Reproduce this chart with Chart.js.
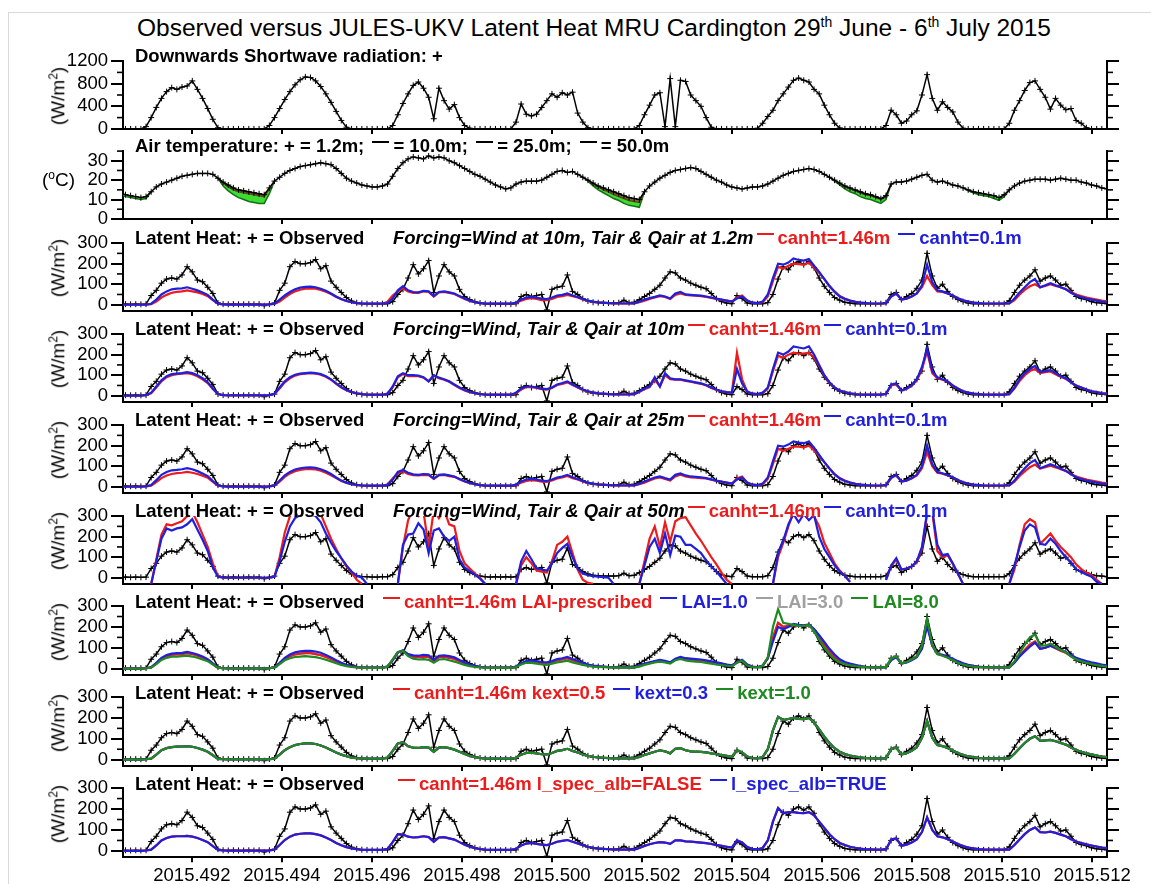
<!DOCTYPE html>
<html>
<head>
<meta charset="utf-8">
<script src="https://cdn.jsdelivr.net/npm/chart.js@4.4.0/dist/chart.umd.min.js"></script>
<style>
  body { margin: 0; background: #fff; }
  #wrap { position: relative; width: 1151px; height: 884px; overflow: hidden; background: #fff;
          font-family: "Liberation Sans", Arial, sans-serif; color: #000; }
  #frame { position: absolute; left: 8px; top: 12px; width: 1300px; height: 1000px; border: 1px solid #dadada; }
  canvas { position: absolute; }
  .title { position: absolute; left: 0; top: 14px; width: 1188px; text-align: center; font-size: 24.5px; white-space: nowrap; }
  .title sup { font-size: 14px; }
  .lbl { position: absolute; font-weight: bold; font-size: 18.5px; line-height: 20px; white-space: nowrap; }
  .dash { display: inline-block; width: 17px; height: 2px; margin: 0 4px 0 3px; position: relative; top: -9px; }
  .ytitle { position: absolute; font-size: 19px; white-space: nowrap; transform: translate(-50%, -50%) rotate(-90deg); }
  .ytitle sup, .deg sup { font-size: 12px; }
  .deg { position: absolute; font-size: 19px; white-space: nowrap; }
</style>
</head>
<body>
<div id="wrap">
  <div id="frame"></div>
  <div class="title">Observed versus JULES-UKV Latent Heat MRU Cardington 29<sup>th</sup> June - 6<sup>th</sup> July 2015</div>
</div>
<script>
// x axis in decimal years, data hourly from 29 June 00:00 UTC
const X_MIN = 2015.49047;
const X_MAX = 2015.51233;
const X_TICKS = [2015.492, 2015.494, 2015.496, 2015.498, 2015.500, 2015.502, 2015.504, 2015.506, 2015.508, 2015.510, 2015.512];

// downward shortwave (W/m2), hours 0..192
const SW_OBS = [
  0,0,0,0,0,40,200,380,540,660,730,700,740,760,850,700,540,360,170,20,0,0,0,0,
  0,0,0,0,0,60,200,360,520,660,780,870,920,910,850,750,620,470,310,150,30,0,0,0,
  0,0,0,0,0,60,250,450,620,770,830,720,560,180,720,500,350,430,200,60,10,0,0,0,
  0,0,0,0,0,120,440,260,230,260,380,500,620,560,640,600,650,280,120,20,0,0,0,0,
  0,0,0,0,0,60,250,420,600,640,40,890,40,860,840,600,500,400,200,30,0,0,0,0,
  0,0,0,0,10,100,220,330,500,620,740,860,900,860,830,700,620,420,250,100,15,0,0,0,
  0,0,0,0,0,60,330,250,100,140,250,320,600,960,540,330,480,380,300,120,10,0,0,0,
  0,0,0,0,0,100,330,500,680,820,850,700,560,350,540,420,340,360,150,100,20,0,0,0,
  0
];

// air temperature at 1.2 m (degC)
const TAIR_OBS = [
  13.5,12.5,12,11.5,11,11.5,14,16.5,18,19,20,21,22,22.5,23,23.5,23.5,23.5,23,21,19,17.5,16,15,
  14.5,14,13.5,13,12.5,16,19.5,21.5,23.5,25,26,27,27.5,28,28.5,29,28.5,28,26,23.5,21,19.5,18.5,17.5,
  17,16.5,16.5,17,18,22,26,29,31,32,31.5,31,32.5,31.5,32,31.5,30,29,27.5,26,24.5,23,22,20.5,
  19,17.5,16.5,15.5,16,18,19,19.5,19.5,19.5,20,21.5,23,24.5,25,24,24.5,23,21.5,20,18.5,17,16,15,
  14,13,12,11,10.5,10,14,17,19,21,22.5,24,25,25.5,26,26.5,26,24.5,23,21.5,20,19,17.5,16.5,
  16,15.5,16,16.5,16.5,17,18,19.5,21,22.5,23.5,24.5,25,25.5,26,25.5,24.5,23,21.5,20,18.5,17,16,15,
  14,13,12.5,11.5,10.5,12,18,19,19,19.5,20.5,21.5,22.5,23,20,19,19.5,18.5,17.5,17,16,15,14,13.5,
  13,12.5,12,11,12.5,15,17,18.5,19.5,20,20.5,20.5,20.5,20,20.5,21,20.5,20,20,19,18.5,17.5,17,16,
  15.5
];
// higher levels only where they separate from 1.2 m at night: [hour, degC]
const TAIR_10M = [
  [19,21],[20,18.5],[21,16.5],[22,15],[23,14],[24,13.5],[25,13],[26,12.5],[27,12],[28,11.5],[29,15.5],[30,19.5],[31,null],
  [91,20],[92,18],[93,16.5],[94,15],[95,14],[96,12.5],[97,11.5],[98,10.5],[99,9.5],[100,9],[101,8.5],[102,14],[103,null],
  [140,18.5],[141,16.5],[142,15.5],[143,14.5],[144,13.5],[145,12.5],[146,12],[147,11],[148,10],[149,11.5],[150,18]
];
const TAIR_50M = [
  [0,12.5],[1,11.5],[2,11],[3,10.5],[4,10],[5,10.5],[6,14],[7,null],
  [19,21],[20,17],[21,14.5],[22,12.5],[23,11],[24,10],[25,9],[26,8.5],[27,8],[28,8],[29,13],[30,19.5],[31,null],
  [90,21.5],[91,19.5],[92,17],[93,15],[94,13.5],[95,12],[96,10.5],[97,9.5],[98,8],[99,7],[100,6.5],[101,6],[102,14],[103,null],
  [138,21.5],[139,19.5],[140,17.5],[141,15.5],[142,14],[143,13],[144,11.5],[145,10.5],[146,10],[147,9],[148,8],[149,10],[150,18],[151,null],
  [164,16],[165,14.5],[166,13.5],[167,12.5],[168,12],[169,11.5],[170,10.5],[171,9.5],[172,11.5],[173,15]
];

// observed latent heat (W/m2)
const LE_OBS = [
  2,3,2,3,2,3,45,70,105,125,130,125,145,185,160,120,112,85,55,8,3,2,3,2,
  2,3,2,3,-5,3,8,70,105,185,210,200,200,205,220,175,190,115,85,60,35,18,10,6,
  5,3,3,5,5,15,50,75,130,195,150,175,215,60,140,195,160,140,75,40,25,15,8,5,
  3,5,3,5,3,5,40,50,40,45,50,-25,75,85,90,145,65,50,30,18,12,10,8,8,
  8,10,22,10,12,25,40,55,75,95,130,160,155,130,120,105,95,85,78,55,30,15,8,5,
  45,30,8,5,5,5,10,50,125,185,170,200,210,195,210,180,130,90,60,35,22,12,8,5,
  5,5,5,5,5,10,50,60,25,40,55,80,120,250,140,80,100,65,40,25,15,8,5,5,
  5,5,5,5,5,20,60,95,120,140,170,115,130,140,120,95,100,70,40,30,25,15,10,8,
  5
];

// forcing at 1.2 m
const LE_12M_CANHT146 = [
  0,0,0,0,0,0,3,15,35,48,58,63,65,70,65,60,52,42,22,5,2,1,1,1,
  1,1,1,1,1,2,4,15,35,52,65,73,78,80,78,72,63,52,38,27,18,12,8,5,
  5,5,5,5,15,45,65,80,65,58,58,65,62,40,60,62,58,52,40,28,18,12,8,5,
  5,5,5,5,5,8,20,28,32,28,22,22,28,38,42,48,42,35,26,18,14,12,10,8,
  6,6,6,6,6,12,20,28,35,42,38,28,48,55,48,46,44,42,38,33,28,24,20,15,
  35,45,20,10,8,12,40,115,185,175,190,200,198,195,205,180,155,125,92,65,42,30,20,14,
  10,8,6,6,6,6,40,55,25,30,40,55,85,140,95,65,62,55,45,32,22,15,10,8,
  6,6,6,6,6,6,22,50,72,90,100,85,92,100,92,85,75,62,50,42,35,30,25,20,
  16
];
const LE_12M_CANHT01 = [
  0,0,0,0,0,0,5,25,50,65,75,78,80,85,78,70,60,48,25,5,2,1,1,1,
  1,1,1,1,1,2,5,25,45,62,75,83,87,88,85,78,68,55,40,28,18,12,8,5,
  5,5,5,5,8,30,70,90,70,62,60,68,65,42,62,65,60,55,42,30,20,12,8,5,
  5,5,5,5,5,10,25,35,38,35,30,28,35,45,48,55,45,38,28,20,15,12,10,8,
  6,6,6,6,6,15,25,32,38,45,40,30,55,62,50,48,46,44,40,35,30,25,20,15,
  30,40,20,10,8,15,50,130,200,195,205,225,218,215,222,190,160,125,90,62,40,28,20,14,
  10,8,6,6,6,6,40,55,25,30,40,55,95,195,110,70,65,55,45,32,22,15,10,8,
  6,6,6,6,6,6,30,60,85,110,125,85,95,105,95,85,75,58,45,38,30,25,20,15,
  12
];

// forcing at 10 m
const LE_10M_CANHT146 = [
  0,0,0,0,0,3,12,40,70,90,100,105,108,110,105,95,80,62,33,8,3,2,2,2,
  2,2,2,2,2,3,8,35,65,85,98,105,108,110,108,102,92,78,58,40,27,18,12,8,
  6,5,5,5,10,40,90,105,95,95,95,88,70,98,85,78,68,52,38,26,17,12,8,6,
  5,5,5,5,5,12,30,42,42,38,32,30,38,52,58,65,52,40,28,20,15,12,10,8,
  6,6,6,6,8,18,32,42,80,45,100,80,78,78,72,68,62,58,50,38,28,22,18,15,
  210,80,20,10,8,12,35,120,195,185,200,210,205,205,210,185,145,98,62,40,25,18,12,8,
  6,5,5,5,5,8,50,55,25,33,48,75,130,215,110,85,78,68,48,34,22,15,10,8,
  6,5,5,5,5,8,35,72,100,120,130,110,115,118,105,92,82,65,50,40,30,22,18,13,
  10
];
const LE_10M_CANHT01 = [
  0,0,0,0,0,3,15,45,75,95,105,108,110,115,110,100,85,65,35,8,3,2,2,2,
  2,2,2,2,2,3,10,40,70,90,102,108,110,112,110,105,95,80,60,42,28,18,12,8,
  6,5,5,5,10,45,95,110,100,100,98,90,70,100,88,80,70,55,40,28,18,12,8,6,
  5,5,5,5,5,15,35,45,45,40,35,32,40,55,62,70,55,42,30,22,16,12,10,8,
  6,6,6,6,8,20,35,45,90,45,110,85,80,80,75,70,65,60,52,40,30,22,18,15,
  130,60,20,10,8,15,40,130,210,200,215,240,235,230,240,200,150,100,65,40,25,18,12,8,
  6,5,5,5,5,8,55,60,25,35,50,80,140,230,120,90,80,70,50,35,22,15,10,8,
  6,5,5,5,5,8,40,80,110,130,145,115,120,125,110,95,85,65,50,40,30,22,18,12,
  10
];

// forcing at 25 m
const LE_25M_CANHT146 = [
  0,0,0,0,0,2,5,22,42,55,62,66,68,72,68,62,54,44,24,5,2,1,1,1,
  1,1,1,1,1,2,5,25,48,65,76,82,85,86,84,78,68,56,42,28,19,12,8,5,
  5,5,5,5,12,40,65,75,62,56,55,58,56,38,55,57,52,48,36,26,17,12,8,5,
  5,5,5,5,5,8,20,28,32,30,25,24,30,40,45,52,42,35,26,18,14,12,10,8,
  6,6,6,6,6,12,20,30,40,45,38,30,50,58,50,46,44,42,40,34,28,24,20,15,
  40,50,20,10,8,12,38,110,185,175,185,195,195,192,200,178,150,120,90,62,42,30,20,14,
  10,8,6,6,6,6,42,56,25,30,40,55,90,170,100,68,63,55,45,32,22,15,10,8,
  6,6,6,6,6,6,25,52,75,95,108,88,95,102,94,86,76,62,50,42,35,30,25,20,
  16
];
const LE_25M_CANHT01 = [
  0,0,0,0,0,2,8,32,58,72,80,82,85,90,85,76,65,52,28,6,2,1,1,1,
  1,1,1,1,1,2,6,30,55,72,84,90,93,94,92,85,75,62,45,30,20,13,9,6,
  5,5,5,5,8,35,72,82,68,60,58,62,60,40,58,60,55,50,38,27,18,12,8,5,
  5,5,5,5,5,10,25,35,38,35,30,28,35,45,50,58,46,38,28,20,15,12,10,8,
  6,6,6,6,6,15,25,35,45,50,42,35,58,65,55,50,48,46,42,36,30,25,20,15,
  35,45,20,10,8,15,45,125,200,195,205,220,215,212,220,190,155,120,88,60,40,28,20,14,
  10,8,6,6,6,6,45,58,25,30,42,58,100,200,110,72,66,56,46,33,22,15,10,8,
  6,6,6,6,6,6,30,62,90,115,130,90,100,110,100,88,78,60,46,38,30,25,20,15,
  12
];

// forcing at 50 m (gaps where the model output is missing)
const LE_50M_CANHT146 = [
  null,null,null,null,null,null,-30,90,210,260,255,265,275,300,320,270,210,150,70,8,0,0,0,0,
  0,0,0,0,0,0,5,100,220,300,340,360,370,360,340,310,250,190,140,95,55,25,-10,-30,
  null,null,null,null,null,null,-30,150,280,340,300,320,150,330,290,330,260,250,130,70,45,20,0,-30,
  null,null,null,null,null,-30,60,100,70,35,30,25,80,160,175,200,120,40,-10,-25,-30,null,null,null,
  null,null,null,null,null,-30,80,190,250,150,270,175,275,290,295,255,215,180,140,100,65,25,-10,-30,
  null,null,null,null,null,null,null,-30,100,170,250,320,300,320,310,300,250,170,120,70,35,10,-20,null,
  null,null,null,null,null,-10,55,90,40,45,55,75,140,310,320,130,100,110,68,20,-30,null,null,null,
  null,null,null,null,null,-30,40,160,260,285,270,165,190,215,180,150,125,100,65,42,25,12,-10,-30,
  null
];
const LE_50M_CANHT01 = [
  null,null,null,null,null,null,-30,80,190,240,230,240,245,260,285,235,185,130,50,5,0,0,0,0,
  0,0,0,0,0,0,5,80,175,250,290,305,310,310,300,270,215,170,130,95,60,30,10,0,
  -30,null,null,null,null,null,-30,160,210,215,265,235,120,230,240,200,180,200,90,50,32,15,-5,-30,
  null,null,null,null,null,-30,80,130,90,45,40,35,70,120,145,165,100,45,20,12,8,5,3,0,
  -30,null,null,null,null,-30,60,150,190,120,215,110,205,200,160,160,140,120,85,55,30,0,-30,null,
  null,null,null,null,null,null,null,-30,120,180,260,310,270,310,280,305,200,140,100,60,30,10,-20,null,
  null,null,null,null,null,-10,60,95,40,45,55,80,150,320,330,160,110,115,70,20,-30,null,null,null,
  null,null,null,null,null,-30,60,150,230,260,245,165,160,190,165,130,100,75,42,28,16,5,-20,-30,
  null
];

// LAI experiments (LAI=3.0 lies on the prescribed run)
const LE_LAI_PRESCRIBED = [
  0,0,0,0,0,2,6,25,48,60,66,68,70,74,70,62,52,42,23,5,2,1,1,1,
  1,1,1,1,1,2,6,25,46,60,68,72,74,74,70,65,56,46,34,24,16,10,7,5,
  5,5,5,5,10,42,78,86,66,58,55,58,56,36,55,57,52,46,36,26,17,11,8,5,
  5,5,5,5,5,9,24,32,34,30,26,25,30,40,44,50,40,32,24,17,13,10,9,7,
  6,6,6,6,6,13,22,28,34,38,34,28,44,52,46,44,42,40,36,30,26,22,18,14,
  30,40,18,9,7,14,50,150,220,200,205,210,205,205,210,185,150,115,82,56,38,27,20,15,
  11,8,7,6,6,6,44,58,25,31,42,58,100,215,112,70,64,55,44,32,22,16,12,9,
  7,6,6,6,6,6,30,62,90,115,130,95,100,110,98,86,76,60,46,38,30,25,20,15,
  12
];
const LE_LAI_1 = [
  0,0,0,0,0,2,6,28,52,65,72,74,76,80,75,68,58,46,25,5,2,1,1,1,
  1,1,1,1,1,2,6,28,52,68,78,83,85,85,82,76,66,54,40,28,18,12,8,5,
  5,5,5,5,10,40,78,88,70,64,62,66,64,42,62,64,60,54,42,30,20,13,9,6,
  5,5,5,5,5,10,26,36,40,36,32,30,36,46,50,56,46,38,28,20,15,12,10,8,
  6,6,6,6,6,15,24,30,36,42,38,30,48,56,50,48,46,44,40,35,30,25,20,16,
  30,42,20,10,8,15,50,130,200,190,200,215,210,208,212,190,160,128,95,68,45,32,24,18,
  12,9,7,6,6,6,40,55,25,30,40,55,95,205,110,72,66,58,48,36,26,18,13,10,
  8,7,6,6,6,6,28,58,82,105,125,95,100,110,100,90,80,65,52,44,36,30,25,20,
  16
];
const LE_LAI_8 = [
  0,0,0,0,0,2,5,22,42,52,57,58,60,62,58,52,44,36,20,4,2,1,1,1,
  1,1,1,1,1,2,5,22,40,50,56,58,60,58,55,50,43,35,26,18,12,8,6,4,
  4,4,4,4,10,45,80,85,60,48,44,46,42,28,44,46,40,34,26,18,12,8,6,4,
  4,4,4,4,4,8,20,28,28,24,20,18,24,30,34,38,30,24,18,13,10,8,7,6,
  5,5,5,5,5,10,18,24,30,34,30,24,40,46,40,36,34,32,28,24,20,17,14,11,
  28,38,15,8,6,12,55,200,285,220,215,210,205,205,210,180,140,100,70,45,30,22,16,12,
  9,7,6,6,6,6,48,60,25,32,44,60,110,240,115,70,62,52,40,28,19,13,10,8,
  6,6,6,6,6,6,35,75,115,150,165,110,110,120,105,90,78,58,44,35,28,22,17,13,
  10
];

// kext experiments: the three runs overlap, kext=1.0 drawn last
const LE_KEXT = [
  0,0,0,0,0,2,5,24,45,55,60,62,63,65,62,56,48,38,21,4,2,1,1,1,
  1,1,1,1,1,2,5,24,45,60,70,75,78,78,75,68,58,46,34,24,16,10,7,5,
  5,5,5,5,10,42,78,84,64,58,56,60,58,38,58,60,55,48,38,27,18,12,8,5,
  5,5,5,5,5,9,24,32,34,30,26,25,32,42,46,52,42,34,25,18,14,11,9,7,
  6,6,6,6,6,13,22,30,38,45,40,30,52,55,45,40,38,37,35,30,26,22,18,14,
  45,35,15,8,6,12,50,140,205,190,195,200,196,194,200,178,145,110,80,55,38,27,20,15,
  11,8,7,6,6,6,50,58,25,31,42,60,105,185,105,70,65,56,44,32,22,16,12,9,
  7,6,6,6,6,6,28,55,80,100,112,90,92,95,88,80,72,58,46,38,30,25,20,15,
  12
];

// l_spec_alb experiments: FALSE and TRUE overlap
const LE_SPEC_ALB = [
  0,0,0,0,0,2,6,26,50,62,68,70,70,72,68,62,52,42,23,5,2,1,1,1,
  1,1,1,1,1,2,6,28,52,68,78,82,84,84,80,74,64,52,38,27,18,12,8,5,
  5,5,5,5,10,42,80,78,68,64,66,70,66,44,64,66,60,54,42,30,20,13,9,6,
  5,5,5,5,5,10,26,35,38,34,30,28,34,44,48,52,44,36,27,20,15,12,10,8,
  6,6,6,6,6,14,24,32,38,42,40,34,50,50,46,44,42,40,37,33,28,24,20,16,
  50,40,18,10,8,14,50,140,205,180,185,185,182,180,185,170,140,110,80,56,38,28,20,15,
  11,8,7,6,6,6,55,60,25,30,40,55,90,160,100,70,65,56,45,33,23,16,12,9,
  7,6,6,6,6,6,28,55,80,100,112,90,88,92,86,78,70,56,45,38,31,26,21,16,
  13
];

const RED = '#ec1c1c', BLUE = '#1f1fdc', GREEN = '#1f8a1f', GREY = '#a0a0a0';
const FONT = '"Liberation Sans", Arial, sans-serif';
const TICK_FONT = { family: FONT, size: 18.5 };

const toYear = h => 2015 + (179 + h / 24) / 365;
const hourly = arr => arr.map((v, h) => ({ x: toYear(h), y: v }));
const pairs = arr => arr.map(p => ({ x: toYear(p[0]), y: p[1] }));

function obs(data) {
  return { data, borderColor: '#000', borderWidth: 1.5, pointStyle: 'cross', pointRadius: 3,
           pointBorderColor: '#000', pointBorderWidth: 1, order: 10 };
}
function model(arr, color, order) {
  return { data: hourly(arr), borderColor: color, borderWidth: 2.2, pointRadius: 0, order };
}

const minorTicks = {
  id: 'minorTicks',
  afterDraw(chart, args, opts) {
    const ctx = chart.ctx;
    ['y', 'y2'].forEach(id => {
      const s = chart.scales[id];
      ctx.save();
      ctx.strokeStyle = '#000';
      ctx.lineWidth = 1.6;
      opts.values.forEach(v => {
        const py = s.getPixelForValue(v);
        const x0 = id === 'y' ? chart.chartArea.left : chart.chartArea.right;
        const dir = id === 'y' ? -1 : 1;
        ctx.beginPath();
        ctx.moveTo(x0, py);
        ctx.lineTo(x0 + dir * 6, py);
        ctx.stroke();
      });
      ctx.restore();
    });
  }
};

const wrap = document.getElementById('wrap');
const CANVAS_LEFT = 20, CANVAS_W = 1121, AREA_LEFT = 123, AREA_RIGHT = 1107;

function addHtml(cls, html, style) {
  const d = document.createElement('div');
  d.className = cls;
  d.innerHTML = html;
  Object.assign(d.style, style);
  wrap.appendChild(d);
}

function buildPanel(p) {
  const top = Math.floor(p.areaTop) - 13;
  const padT = p.areaTop - top;
  const xH = p.last ? 34 : 13;
  const h = Math.ceil(p.areaBottom + xH) - top;
  const xFit = h - padT - (p.areaBottom - p.areaTop);

  const cv = document.createElement('canvas');
  cv.width = CANVAS_W; cv.height = h;
  cv.style.left = CANVAS_LEFT + 'px'; cv.style.top = top + 'px';
  cv.style.width = CANVAS_W + 'px'; cv.style.height = h + 'px';
  wrap.appendChild(cv);

  const yAxis = (pos, showLabels) => ({
    position: pos, min: p.yMin, max: p.yMax,
    afterBuildTicks: s => { s.ticks = p.majors.map(v => ({ value: v })); },
    afterFit: s => { s.width = pos === 'left' ? AREA_LEFT - CANVAS_LEFT : CANVAS_LEFT + CANVAS_W - AREA_RIGHT; },
    ticks: { callback: v => showLabels ? String(v) : '', color: '#000', padding: 3, autoSkip: false,
             font: TICK_FONT },
    grid: { drawOnChartArea: false, tickLength: 12, color: '#000', lineWidth: 2 },
    border: { color: '#000', width: 2 }
  });

  new Chart(cv, {
    type: 'line',
    data: { datasets: p.datasets },
    plugins: [minorTicks],
    options: {
      responsive: false, animation: false, devicePixelRatio: 1,
      layout: { padding: { top: padT, left: 0, right: 0, bottom: 0 } },
      plugins: { legend: { display: false }, tooltip: { enabled: false }, minorTicks: { values: p.minors } },
      scales: {
        x: {
          type: 'linear', position: 'bottom', min: X_MIN, max: X_MAX,
          afterBuildTicks: s => { s.ticks = X_TICKS.map(v => ({ value: v })); },
          afterFit: s => { s.height = xFit; },
          ticks: { callback: v => p.last ? v.toFixed(3) : '', color: '#000', padding: 3, autoSkip: false,
                   maxRotation: 0, font: TICK_FONT },
          grid: { drawOnChartArea: false, tickLength: 5, color: '#000', lineWidth: 2 },
          border: { color: '#000', width: 2 }
        },
        y: yAxis('left', true),
        y2: yAxis('right', false)
      }
    }
  });

  addHtml('lbl', p.label, { left: '135px', top: (p.areaTop - 14) + 'px' });
  if (p.label2) addHtml('lbl', p.label2, { left: p.label2x + 'px', top: (p.areaTop - 14) + 'px' });
  if (p.ytitle) addHtml('ytitle', p.ytitle, { left: '58px', top: p.ytitleY + 'px' });
}

const dash = c => `<span class="dash" style="background:${c}"></span>`;
const col = (c, t) => `<span style="color:${c}">${t}</span>`;
const WM2 = '(W/m<sup>2</sup>)';

// panel 1: shortwave
buildPanel({
  areaTop: 60, areaBottom: 130, yMin: 0, yMax: 1200,
  majors: [0, 400, 800, 1200], minors: [200, 600, 1000],
  datasets: [obs(hourly(SW_OBS))],
  label: 'Downwards Shortwave radiation: +', ytitle: WM2, ytitleY: 96
});
// panel 2: air temperature
buildPanel({
  areaTop: 150, areaBottom: 220, yMin: 0, yMax: 35,
  majors: [0, 10, 20, 30], minors: [5, 15, 25, 35],
  datasets: [
    obs(hourly(TAIR_OBS)),
    { data: pairs(TAIR_10M), borderColor: '#5a4a1a', borderWidth: 1.5, pointRadius: 0, order: 12,
      fill: { target: 0 }, backgroundColor: 'rgb(128,104,40)' },
    { data: pairs(TAIR_50M), borderColor: '#157015', borderWidth: 1.5, pointRadius: 0, order: 14,
      fill: { target: 0 }, backgroundColor: 'rgb(60,220,50)' }
  ],
  label: `Air temperature: + = 1.2m; ${dash('#000')}= 10.0m; ${dash('#000')}= 25.0m; ${dash('#000')}= 50.0m`
});
addHtml('deg', '(<sup>o</sup>C)', { left: '42px', top: '168px' });

// panels 3-9: latent heat
const LH_TOP = 242.3, LH_STEP = 90.9, LH_H = 69.5;
const LH_PANELS = [
  { sets: [model(LE_12M_CANHT146, RED, 5), model(LE_12M_CANHT01, BLUE, 4)],
    label2: `<i>Forcing=Wind at 10m, Tair &amp; Qair at 1.2m</i>${dash(RED)}${col(RED, 'canht=1.46m')} ${dash(BLUE)}${col(BLUE, 'canht=0.1m')}`, x: 393 },
  { sets: [model(LE_10M_CANHT146, RED, 5), model(LE_10M_CANHT01, BLUE, 4)],
    label2: `<i>Forcing=Wind, Tair &amp; Qair at 10m</i>${dash(RED)}${col(RED, 'canht=1.46m')}${dash(BLUE)}${col(BLUE, 'canht=0.1m')}`, x: 393 },
  { sets: [model(LE_25M_CANHT146, RED, 5), model(LE_25M_CANHT01, BLUE, 4)],
    label2: `<i>Forcing=Wind, Tair &amp; Qair at 25m</i>${dash(RED)}${col(RED, 'canht=1.46m')}${dash(BLUE)}${col(BLUE, 'canht=0.1m')}`, x: 393 },
  { sets: [model(LE_50M_CANHT146, RED, 5), model(LE_50M_CANHT01, BLUE, 4)],
    label2: `<i>Forcing=Wind, Tair &amp; Qair at 50m</i>${dash(RED)}${col(RED, 'canht=1.46m')}${dash(BLUE)}${col(BLUE, 'canht=0.1m')}`, x: 393 },
  { sets: [model(LE_LAI_PRESCRIBED, GREY, 6), model(LE_LAI_PRESCRIBED, RED, 5), model(LE_LAI_1, BLUE, 4), model(LE_LAI_8, GREEN, 3)],
    label2: `${dash(RED)}${col(RED, 'canht=1.46m LAI-prescribed')} ${dash(BLUE)}${col(BLUE, 'LAI=1.0')} ${dash(GREY)}${col(GREY, 'LAI=3.0')} ${dash(GREEN)}${col(GREEN, 'LAI=8.0')}`, x: 380 },
  { sets: [model(LE_KEXT, RED, 5), model(LE_KEXT, BLUE, 4), model(LE_KEXT, GREEN, 3)],
    label2: `${dash(RED)}${col(RED, 'canht=1.46m kext=0.5')} ${dash(BLUE)}${col(BLUE, 'kext=0.3')} ${dash(GREEN)}${col(GREEN, 'kext=1.0')}`, x: 390 },
  { sets: [model(LE_SPEC_ALB, RED, 5), model(LE_SPEC_ALB, BLUE, 4)],
    label2: `${dash(RED)}${col(RED, 'canht=1.46m l_spec_alb=FALSE')} ${dash(BLUE)}${col(BLUE, 'l_spec_alb=TRUE')}`, x: 395 }
];

LH_PANELS.forEach((pp, k) => {
  const t = LH_TOP + LH_STEP * k;
  buildPanel({
    areaTop: t, areaBottom: t + LH_H, yMin: -30, yMax: 300,
    majors: [0, 100, 200, 300], minors: [50, 150, 250],
    datasets: [obs(hourly(LE_OBS))].concat(pp.sets),
    label: 'Latent Heat: + = Observed', label2: pp.label2, label2x: pp.x,
    ytitle: WM2, ytitleY: t + 26, last: k === LH_PANELS.length - 1
  });
});
</script>
</body>
</html>
